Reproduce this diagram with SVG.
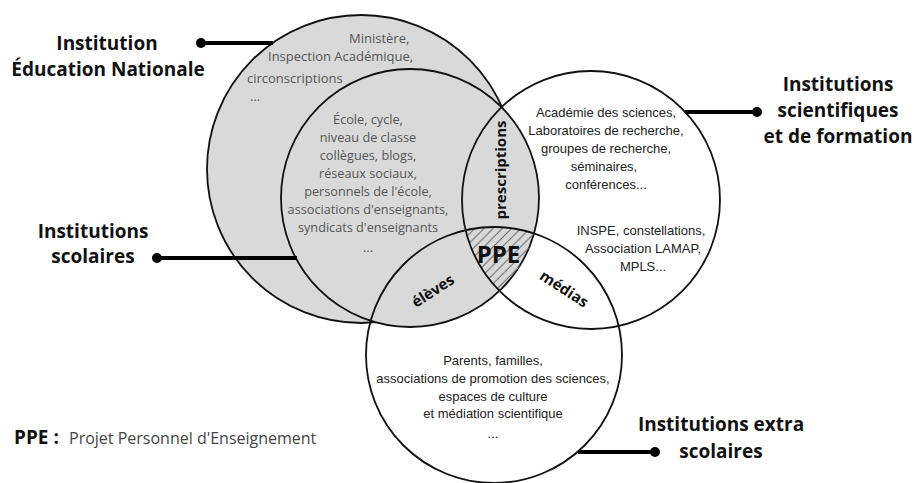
<svg xmlns="http://www.w3.org/2000/svg" width="914" height="483" viewBox="0 0 914 483">
<style>
.gray{fill:#d9d9d9;stroke:#111;stroke-width:1.8}
.ring{fill:none;stroke:#111;stroke-width:1.8}
.conn{stroke:#000;stroke-width:4;fill:none}
.dot{fill:#000}
.lbl{font-family:"Open Sans","DejaVu Sans",sans-serif;font-weight:700;font-size:19px;fill:#111;text-anchor:middle}
.os{font-family:"Open Sans","DejaVu Sans",sans-serif;font-size:13px;fill:#555}
.osc{font-family:"Open Sans","DejaVu Sans",sans-serif;font-size:12.7px;fill:#555;text-anchor:middle}
.ar{font-family:"Liberation Sans",Arial,sans-serif;font-size:13px;fill:#222;text-anchor:middle}
.zone{font-family:"Open Sans","DejaVu Sans",sans-serif;font-weight:700;font-size:15px;fill:#111;text-anchor:middle}
</style>
<defs>
<pattern id="hatch" patternUnits="userSpaceOnUse" width="6.5" height="6.5" patternTransform="rotate(45)">
<line x1="3.25" y1="0" x2="3.25" y2="6.5" stroke="#777" stroke-width="1.2"/>
</pattern>
<clipPath id="cRight"><circle cx="591" cy="200" r="129"/></clipPath>
<clipPath id="cBottom"><circle cx="494" cy="355" r="128"/></clipPath>
<clipPath id="cInner"><circle cx="410" cy="198" r="129"/></clipPath>
</defs>

<g id="node-education-nationale">
<circle class="gray" cx="361" cy="169" r="154"/>
<text class="os" x="349" y="43">Ministère,</text>
<text class="os" x="268" y="61">Inspection Académique,</text>
<text class="os" x="247" y="83">circonscriptions</text>
<text class="os" x="250" y="101">...</text>
</g>

<g id="node-scolaires">
<circle class="gray" cx="410" cy="198" r="129"/>
<text class="osc" x="368" y="124">École, cycle,</text>
<text class="osc" x="368" y="142">niveau de classe</text>
<text class="osc" x="368" y="160">collègues, blogs,</text>
<text class="osc" x="368" y="178">réseaux sociaux,</text>
<text class="osc" x="368" y="196">personnels de l'école,</text>
<text class="osc" x="368" y="214">associations d'enseignants,</text>
<text class="osc" x="368" y="232">syndicats d'enseignants</text>
<text class="osc" x="368" y="252">...</text>
</g>

<g id="node-ppe">
<g clip-path="url(#cRight)"><g clip-path="url(#cBottom)"><g clip-path="url(#cInner)">
<rect x="440" y="200" width="120" height="110" fill="url(#hatch)"/>
</g></g></g>
<text x="498.5" y="263" font-family="'Open Sans','DejaVu Sans',sans-serif" font-weight="700" font-size="24" fill="#111" text-anchor="middle">PPE</text>
</g>

<g id="node-scientifiques">
<circle class="ring" cx="591" cy="200" r="129"/>
<text class="ar" x="606" y="117">Académie des sciences,</text>
<text class="ar" x="606" y="135">Laboratoires de recherche,</text>
<text class="ar" x="606" y="153">groupes de recherche,</text>
<text class="ar" x="604" y="171">séminaires,</text>
<text class="ar" x="606" y="189">conférences...</text>
<text class="ar" x="641" y="235">INSPE, constellations,</text>
<text class="ar" x="643" y="253">Association LAMAP,</text>
<text class="ar" x="643" y="271">MPLS...</text>
</g>

<g id="node-extra-scolaires">
<circle class="ring" cx="494" cy="355" r="128"/>
<text class="ar" x="493" y="365">Parents, familles,</text>
<text class="ar" x="493" y="383">associations de promotion des sciences,</text>
<text class="ar" x="493" y="401">espaces de culture</text>
<text class="ar" x="493" y="418">et médiation scientifique</text>
<text class="ar" x="493" y="438">...</text>
</g>

<g id="lens-prescriptions">
<text class="zone" font-size="16" transform="translate(506,170) rotate(-90)">prescriptions</text>
</g>
<g id="lens-eleves">
<text class="zone" transform="translate(433,291) rotate(-33)" y="5">élèves</text>
</g>
<g id="lens-medias">
<text class="zone" transform="translate(564,289) rotate(33)" y="5">médias</text>
</g>

<g id="connectors">
<line class="conn" x1="201" y1="43" x2="273" y2="43"/>
<circle class="dot" cx="201" cy="43" r="5"/>
<line class="conn" x1="157" y1="258" x2="297" y2="258"/>
<circle class="dot" cx="157" cy="258" r="5"/>
<line class="conn" x1="685" y1="112" x2="757" y2="112"/>
<circle class="dot" cx="757" cy="112" r="5"/>
<line class="conn" x1="578" y1="452" x2="655" y2="452"/>
<circle class="dot" cx="655" cy="452" r="5"/>
</g>

<g id="label-education-nationale">
<text class="lbl" x="107" y="50">Institution</text>
<text class="lbl" x="108" y="76">Éducation Nationale</text>
</g>
<g id="label-scolaires">
<text class="lbl" x="93" y="238">Institutions</text>
<text class="lbl" x="93" y="263">scolaires</text>
</g>
<g id="label-scientifiques">
<text class="lbl" x="838" y="91">Institutions</text>
<text class="lbl" x="838" y="117">scientifiques</text>
<text class="lbl" x="838" y="143">et de formation</text>
</g>
<g id="label-extra-scolaires">
<text class="lbl" x="721" y="431">Institutions extra</text>
<text class="lbl" x="721" y="458">scolaires</text>
</g>

<g id="legend">
<text x="14" y="444" font-family="'Open Sans','DejaVu Sans',sans-serif" font-weight="700" font-size="19" fill="#111">PPE :</text>
<text x="69" y="444" font-family="'Open Sans','DejaVu Sans',sans-serif" font-size="16" fill="#444">Projet Personnel d'Enseignement</text>
</g>
</svg>
